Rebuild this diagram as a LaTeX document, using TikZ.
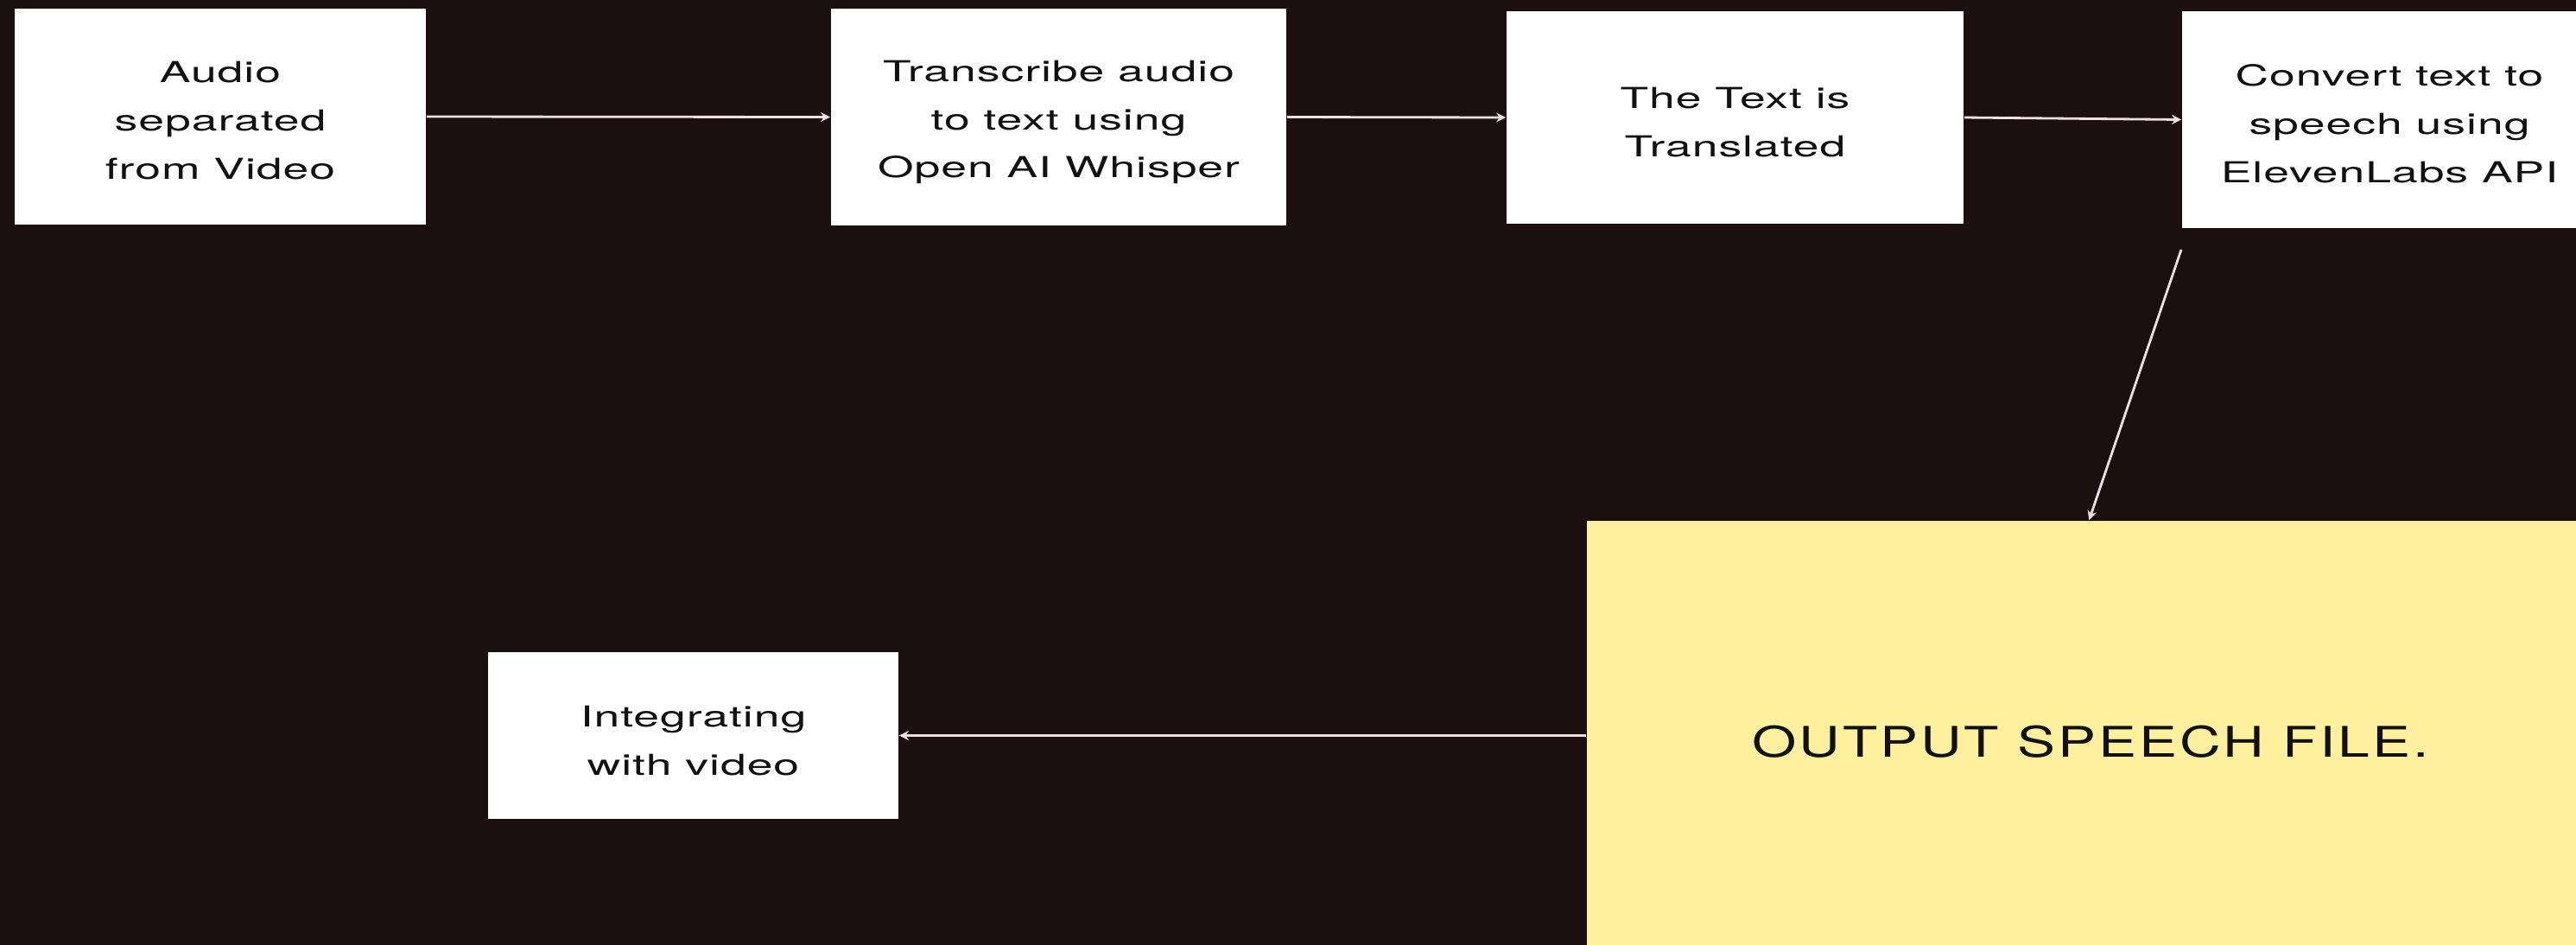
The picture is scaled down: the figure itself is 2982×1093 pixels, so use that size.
\documentclass[tikz,border=0pt]{standalone}
\usepackage{fontspec}
\setmainfont{TeX Gyre Heros}[FakeStretch=1.6,LetterSpace=3]
\newfontfamily\outfont{TeX Gyre Heros}[FakeStretch=1.35,LetterSpace=6]
\usetikzlibrary{arrows.meta}
\definecolor{bgc}{RGB}{28,15,15}
\definecolor{ylw}{RGB}{255,240,160}
\definecolor{arrc}{RGB}{236,222,228}
\definecolor{txtc}{RGB}{17,17,17}
\tikzset{
  wbox/.style={fill=white, draw=none, inner sep=0pt},
  txt/.style={inner sep=0pt, align=center, text=txtc,
    font=\fontsize{9.5}{15.9}\selectfont},
  arr/.style={draw=arrc, line width=0.8pt, -{Stealth[length=1.1mm,width=1.1mm]}}
}
\begin{document}
\begin{tikzpicture}[x=0.01cm,y=-0.01cm]
\useasboundingbox (0,0) rectangle (2982,1093);
\fill[bgc] (-10,-10) rectangle (3010,1120);
\node[wbox, minimum width=4.76cm, minimum height=2.50cm] (b1) at (255,135) {};
\node[wbox, minimum width=5.27cm, minimum height=2.51cm] (b2) at (1225.5,135.5) {};
\node[wbox, minimum width=5.29cm, minimum height=2.46cm] (b3) at (2008.5,136) {};
\node[wbox, minimum width=4.80cm, minimum height=2.51cm] (b4) at (2766,138.5) {};
\node[fill=ylw, draw=none, inner sep=0pt, minimum width=11.66cm, minimum height=5.08cm] (out) at (2420,857) {};
\node[wbox, minimum width=4.75cm, minimum height=1.93cm] (b5) at (802.5,851.5) {};
\node[txt] (t1) at ([yshift=-0.045cm]b1.center) {Audio\\separated\\from Video};
\node[txt] (t2) at ([yshift=-0.06cm]b2.center) {Transcribe audio\\to text using\\Open AI Whisper};
\node[txt] (t3) at ([yshift=-0.06cm]b3.center) {The Text is\\Translated};
\node[txt] (t4) at ([yshift=-0.05cm]b4.center) {Convert text to\\speech using\\ElevenLabs API};
\node[txt, font=\outfont\fontsize{13.9}{16}\selectfont] (t6) at ([yshift=-0.02cm]out.center) {OUTPUT SPEECH FILE.};
\node[txt] (t5) at ([yshift=-0.06cm]b5.center) {Integrating\\with video};
\coordinate (s4) at (2525,289);
\draw[arr] (b1.east) -- (b2.west);
\draw[arr] (b2.east) -- (b3.west);
\draw[arr] (b3.east) -- (b4.west);
\draw[arr] (s4) -- ([xshift=5.82cm]out.north west);
\draw[arr] (out.west |- b5.east) -- (b5.east);
\end{tikzpicture}
\end{document}
